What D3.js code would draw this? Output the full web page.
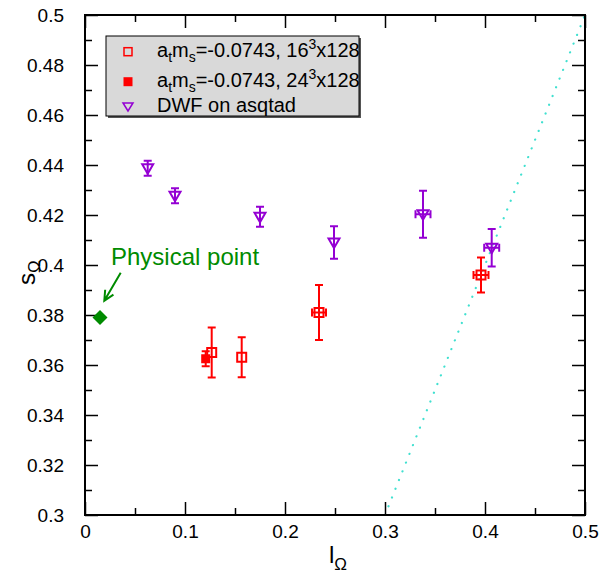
<!DOCTYPE html>
<html><head><meta charset="utf-8">
<script src="https://cdn.jsdelivr.net/npm/d3@7/dist/d3.min.js"></script>
<style>body{margin:0;background:#fff}svg{display:block}text{font-family:"Liberation Sans",Arial,sans-serif}</style>
</head><body><svg id="c" width="601" height="574"></svg>
<script>
// Data
const openX = [0.1267, 0.1567, 0.234, 0.396];
const openY = [0.365, 0.3631, 0.381, 0.396];
const openYerr = [0.010, 0.008, 0.011, 0.007];
const openXerr = [0, 0, 0.007, 0.0075];

const fillX = [0.1207];
const fillY = [0.3625];
const fillYerr = [0.003];
const fillXerr = [0];

const dwfX = [0.0627, 0.090, 0.175, 0.249, 0.338, 0.4067];
const dwfY = [0.4387, 0.4277, 0.4193, 0.409, 0.4203, 0.4069];
const dwfYerr = [0.003, 0.003, 0.004, 0.0065, 0.0094, 0.0075];
const dwfXerr = [0, 0, 0, 0, 0.0075, 0.0075];

const physX = [0.015];
const physY = [0.379];
const physLabel = "Physical point";
const physLabelPos = [0.026, 0.40];
const arrowFrom = [0.0357, 0.3969];
const arrowTo = [0.0193, 0.3857];

const lineX = [0.3, 0.5];
const lineY = [0.3, 0.5];

const xMajor = [0, 0.1, 0.2, 0.3, 0.4, 0.5];
const xMinor = [0.05, 0.15, 0.25, 0.35, 0.45];
const yMajor = [0.3, 0.32, 0.34, 0.36, 0.38, 0.4, 0.42, 0.44, 0.46, 0.48, 0.5];
const yMinor = [0.31, 0.33, 0.35, 0.37, 0.39, 0.41, 0.43, 0.45, 0.47, 0.49];

const RED = "#ff0000", VIOLET = "#9400d3", GREEN = "#008b00", TURQ = "#40e0d0";

const svg = d3.select("#c");
const L = 85, R = 585, T = 15, B = 515;
const x = d3.scaleLinear().domain([0, 0.5]).range([L, R]);
const y = d3.scaleLinear().domain([0.3, 0.5]).range([B, T]);

const fmt = d => String(+d.toFixed(3));

// clip
svg.append("clipPath").attr("id", "clip").append("rect").attr("x", L).attr("y", T).attr("width", R - L).attr("height", B - T);

// turquoise dotted line
svg.append("path").attr("clip-path", "url(#clip)")
  .datum(lineX.map((v, i) => [v, lineY[i]]))
  .attr("d", d3.line().x(d => x(d[0])).y(d => y(d[1])))
  .attr("fill", "none").attr("stroke", TURQ).attr("stroke-width", 2.2)
  .attr("stroke-dasharray", "0.1 9.3").attr("stroke-linecap", "round");

// axes
function styleAxis(g) {
  g.select(".domain").remove();
  g.selectAll(".tick line").attr("stroke", "#000").attr("stroke-width", 1.5);
  g.selectAll(".tick text").attr("font-size", 19).attr("fill", "#000")
    .style("font-family", '"Liberation Sans",Arial,sans-serif');
}
svg.append("g").attr("transform", `translate(0,${B})`)
  .call(d3.axisBottom(x).tickValues(xMajor).tickSizeInner(-13).tickSizeOuter(0).tickPadding(10).tickFormat(fmt)).call(styleAxis);
svg.append("g").attr("transform", `translate(0,${B})`)
  .call(d3.axisBottom(x).tickValues(xMinor).tickSizeInner(-7).tickSizeOuter(0).tickFormat("")).call(styleAxis);
svg.append("g").attr("transform", `translate(0,${T})`)
  .call(d3.axisTop(x).tickValues(xMajor).tickSizeInner(-13).tickSizeOuter(0).tickFormat("")).call(styleAxis);
svg.append("g").attr("transform", `translate(0,${T})`)
  .call(d3.axisTop(x).tickValues(xMinor).tickSizeInner(-7).tickSizeOuter(0).tickFormat("")).call(styleAxis);
svg.append("g").attr("transform", `translate(${L},0)`)
  .call(d3.axisLeft(y).tickValues(yMajor).tickSizeInner(-13).tickSizeOuter(0).tickPadding(21).tickFormat(fmt)).call(styleAxis);
svg.append("g").attr("transform", `translate(${L},0)`)
  .call(d3.axisLeft(y).tickValues(yMinor).tickSizeInner(-7).tickSizeOuter(0).tickFormat("")).call(styleAxis);
svg.append("g").attr("transform", `translate(${R},0)`)
  .call(d3.axisRight(y).tickValues(yMajor).tickSizeInner(-13).tickSizeOuter(0).tickFormat("")).call(styleAxis);
svg.append("g").attr("transform", `translate(${R},0)`)
  .call(d3.axisRight(y).tickValues(yMinor).tickSizeInner(-7).tickSizeOuter(0).tickFormat("")).call(styleAxis);

// frame
svg.append("rect").attr("x", L).attr("y", T).attr("width", R - L).attr("height", B - T)
  .attr("fill", "none").attr("stroke", "#000").attr("stroke-width", 2);

// axis titles
const xt = svg.append("text").attr("x", 329).attr("y", 563).attr("font-size", 24).attr("text-anchor", "start");
xt.append("tspan").text("l");
xt.append("tspan").attr("dy", 7).attr("font-size", 17).text("Ω");
const yt = svg.append("text").attr("transform", "translate(35,285) rotate(-90)").attr("font-size", 24);
yt.append("tspan").text("s");
yt.append("tspan").attr("dy", 5).attr("font-size", 17).text("Ω");

// error bars helper
function errorBars(xs, ys, xe, ye, color) {
  const g = svg.append("g").attr("stroke", color).attr("stroke-width", 2).attr("fill", "none");
  const cap = 4;
  xs.forEach((xv, i) => {
    const cx = x(xv), cy = y(ys[i]);
    if (ye[i] > 0) {
      const y1 = y(ys[i] + ye[i]), y2 = y(ys[i] - ye[i]);
      g.append("line").attr("x1", cx).attr("x2", cx).attr("y1", y1).attr("y2", y2);
      g.append("line").attr("x1", cx - cap).attr("x2", cx + cap).attr("y1", y1).attr("y2", y1);
      g.append("line").attr("x1", cx - cap).attr("x2", cx + cap).attr("y1", y2).attr("y2", y2);
    }
    if (xe[i] > 0) {
      const x1 = x(xv - xe[i]), x2 = x(xv + xe[i]);
      g.append("line").attr("x1", x1).attr("x2", x2).attr("y1", cy).attr("y2", cy);
      g.append("line").attr("x1", x1).attr("x2", x1).attr("y1", cy - cap).attr("y2", cy + cap);
      g.append("line").attr("x1", x2).attr("x2", x2).attr("y1", cy - cap).attr("y2", cy + cap);
    }
  });
}

errorBars(dwfX, dwfY, dwfXerr, dwfYerr, VIOLET);
errorBars(openX, openY, openXerr, openYerr, RED);
errorBars(fillX, fillY, fillXerr, fillYerr, RED);

const triPath = (cx, cy) => `M${cx - 5.5},${cy - 4} L${cx + 5.5},${cy - 4} L${cx},${cy + 5.5} Z`;
svg.append("g").selectAll("path").data(dwfX).join("path")
  .attr("d", (d, i) => triPath(x(d), y(dwfY[i])))
  .attr("fill", "none").attr("stroke", VIOLET).attr("stroke-width", 2);

svg.append("g").selectAll("rect").data(openX).join("rect")
  .attr("x", d => x(d) - 4.5).attr("y", (d, i) => y(openY[i]) - 4.5)
  .attr("width", 9).attr("height", 9)
  .attr("fill", "none").attr("stroke", RED).attr("stroke-width", 2);

svg.append("g").selectAll("rect").data(fillX).join("rect")
  .attr("x", d => x(d) - 4.5).attr("y", (d, i) => y(fillY[i]) - 4.5)
  .attr("width", 9).attr("height", 9).attr("fill", RED);

// physical point
svg.append("g").selectAll("path").data(physX).join("path")
  .attr("d", (d, i) => { const cx = x(d), cy = y(physY[i]), s = 7.5; return `M${cx},${cy - s} L${cx + s},${cy} L${cx},${cy + s} L${cx - s},${cy} Z`; })
  .attr("fill", GREEN);
svg.append("text").attr("x", x(physLabelPos[0])).attr("y", y(physLabelPos[1]))
  .attr("font-size", 24).attr("fill", GREEN).text(physLabel);
{
  const x1 = x(arrowFrom[0]), y1 = y(arrowFrom[1]), x2 = x(arrowTo[0]), y2 = y(arrowTo[1]);
  const ang = Math.atan2(y2 - y1, x2 - x1), hl = 11, ha = 0.45;
  const p = d3.path();
  p.moveTo(x1, y1); p.lineTo(x2, y2);
  p.moveTo(x2 - hl * Math.cos(ang - ha), y2 - hl * Math.sin(ang - ha));
  p.lineTo(x2, y2);
  p.lineTo(x2 - hl * Math.cos(ang + ha), y2 - hl * Math.sin(ang + ha));
  svg.append("path").attr("d", p.toString()).attr("fill", "none").attr("stroke", GREEN).attr("stroke-width", 2);
}

// legend
const lg = svg.append("g");
lg.append("rect").attr("x", 108).attr("y", 38).attr("width", 253).attr("height", 80).attr("fill", "#555");
lg.append("rect").attr("x", 106).attr("y", 36).attr("width", 253).attr("height", 80)
  .attr("fill", "#d9d9d9").attr("stroke", "#000").attr("stroke-width", 1);
const rowsY = [51.7, 81.7, 107];
lg.append("rect").attr("x", 124).attr("y", rowsY[0] - 4).attr("width", 8).attr("height", 8)
  .attr("fill", "none").attr("stroke", RED).attr("stroke-width", 1.5);
lg.append("rect").attr("x", 123.5).attr("y", rowsY[1] - 4.5).attr("width", 9).attr("height", 9).attr("fill", RED);
lg.append("path").attr("d", `M${123},${rowsY[2] - 4} L${133},${rowsY[2] - 4} L${128},${rowsY[2] + 4} Z`)
  .attr("fill", "none").attr("stroke", VIOLET).attr("stroke-width", 1.5);

function legendText(yb, size) {
  const t = lg.append("text").attr("x", 157).attr("y", yb).attr("font-size", 20);
  t.append("tspan").text("a");
  t.append("tspan").attr("dy", 5).attr("font-size", 14).text("t");
  t.append("tspan").attr("dy", -5).text("m");
  t.append("tspan").attr("dy", 5).attr("font-size", 14).text("s");
  t.append("tspan").attr("dy", -5).text("=-0.0743, " + size);
  t.append("tspan").attr("dy", -8).attr("font-size", 14).text("3");
  t.append("tspan").attr("dy", 8).text("x128");
}
legendText(56.7, "16");
legendText(86.7, "24");
lg.append("text").attr("x", 157).attr("y", 111.7).attr("font-size", 20).text("DWF on asqtad");
</script></body></html>
